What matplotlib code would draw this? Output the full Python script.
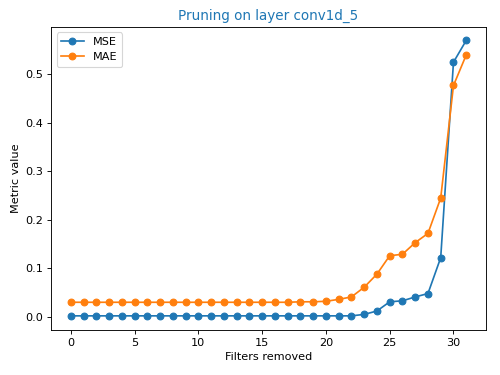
import matplotlib
matplotlib.use('Agg')
import matplotlib.pyplot as plt

filters = list(range(32))
mse = [0.002] * 22 + [0.002, 0.005, 0.012, 0.031, 0.033, 0.041, 0.048, 0.122, 0.525, 0.570]
mae = [0.030] * 17 + [0.030, 0.031, 0.031, 0.032, 0.036, 0.041, 0.061, 0.088, 0.126, 0.129,
                      0.153, 0.172, 0.245, 0.477, 0.540]

dpi = 81.0
fig = plt.figure(figsize=(500 / dpi, 375 / dpi), dpi=dpi)
plt.plot(filters, mse, marker='o', label='MSE')
plt.plot(filters, mae, marker='o', label='MAE')
plt.title('Pruning on layer conv1d_5', color='C0')
plt.xlabel('Filters removed')
plt.ylabel('Metric value')
plt.legend(loc='upper left')
plt.subplots_adjust(left=0.102, right=0.972, top=0.929, bottom=0.121)
plt.savefig('out.png', dpi=dpi)
